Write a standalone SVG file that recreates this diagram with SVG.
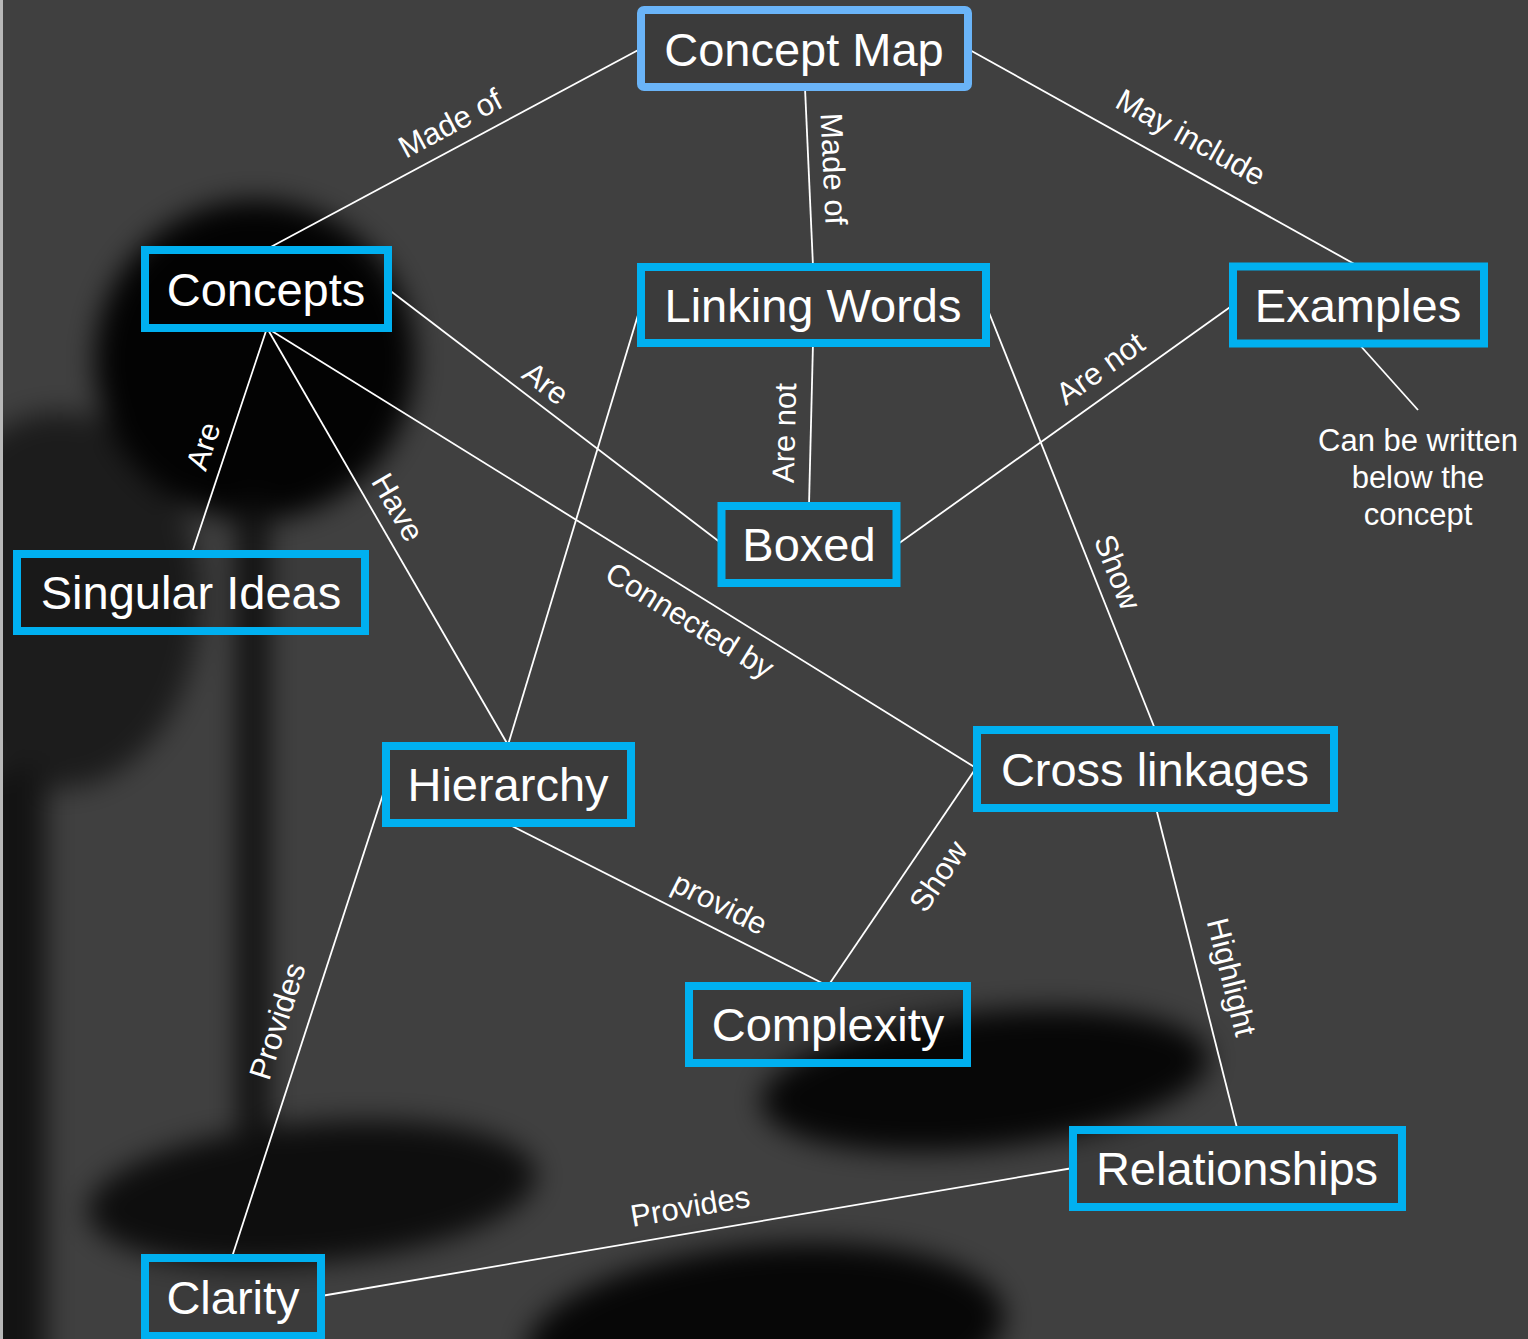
<svg xmlns="http://www.w3.org/2000/svg" width="1528" height="1339" viewBox="0 0 1528 1339">
<defs>
<filter id="blur" x="-200" y="-200" width="1928" height="1739" filterUnits="userSpaceOnUse" color-interpolation-filters="sRGB">
<feGaussianBlur stdDeviation="14"/>
</filter>
<style>
.node rect{fill:rgba(0,0,0,0.08);stroke:#00b0f0;stroke-width:8}
.node text{font-family:"Liberation Sans",Arial,sans-serif;font-size:47px;fill:#ffffff;text-anchor:middle}
#concept-map rect{stroke:#6ab4f8}
.conn line{stroke:#ffffff;stroke-width:1.8;fill:none}
.lbl{font-family:"Liberation Sans",Arial,sans-serif;font-size:31px;fill:#ffffff;text-anchor:middle}
.note{font-family:"Liberation Sans",Arial,sans-serif;font-size:31px;fill:#ffffff;text-anchor:middle}
</style>
</defs>
<g id="background">
<g filter="url(#blur)">
<rect x="-100" y="-100" width="1728" height="1539" fill="#404040"/>
<ellipse cx="60" cy="600" rx="140" ry="188" fill="#1c1c1c"/>
<circle cx="255" cy="360" r="160" fill="#030303"/>
<rect x="238" y="500" width="30" height="630" fill="#0e0e0e"/>
<rect x="-20" y="770" width="66" height="620" fill="#131313"/>
<ellipse cx="312" cy="1193" rx="225" ry="70" fill="#0e0e0e" transform="rotate(-5 312 1193)"/>
<ellipse cx="985" cy="1080" rx="225" ry="68" fill="#070707" transform="rotate(-6 985 1080)"/>
<ellipse cx="765" cy="1335" rx="240" ry="90" fill="#070707" transform="rotate(-5 765 1335)"/>
</g>
<rect x="0" y="0" width="3" height="1339" fill="#b8b8b8"/>
</g>
<g id="connectors" class="conn">
<line x1="642" y1="48" x2="267" y2="249"/>
<text class="lbl" transform="translate(450,123) rotate(-28)" dy="11">Made of</text>
<line x1="805" y1="88" x2="813" y2="266"/>
<text class="lbl" transform="translate(834,169) rotate(87.4)" dy="11">Made of</text>
<line x1="968" y1="49" x2="1358" y2="266"/>
<text class="lbl" transform="translate(1191,137) rotate(29.1)" dy="11">May include</text>
<line x1="267" y1="328" x2="192" y2="553"/>
<text class="lbl" transform="translate(203,446) rotate(-71.6)" dy="11">Are</text>
<line x1="267" y1="328" x2="508" y2="745"/>
<text class="lbl" transform="translate(398,507) rotate(60)" dy="11">Have</text>
<line x1="267" y1="328" x2="976" y2="768"/>
<text class="lbl" transform="translate(690,620) rotate(31.8)" dy="11">Connected by</text>
<line x1="388" y1="289" x2="721" y2="543"/>
<text class="lbl" transform="translate(546,383) rotate(37.4)" dy="11">Are</text>
<line x1="813" y1="343" x2="809" y2="505"/>
<text class="lbl" transform="translate(784,433) rotate(-88.6)" dy="11">Are not</text>
<line x1="641" y1="305" x2="508" y2="745"/>
<line x1="986" y1="305" x2="1155" y2="729"/>
<text class="lbl" transform="translate(1118,572) rotate(68.2)" dy="11">Show</text>
<line x1="1233" y1="305" x2="898" y2="544"/>
<text class="lbl" transform="translate(1100,368) rotate(-35.4)" dy="11">Are not</text>
<line x1="1358" y1="343" x2="1418" y2="410"/>
<line x1="508" y1="824" x2="828" y2="986"/>
<text class="lbl" transform="translate(720,903) rotate(26.8)" dy="11">provide</text>
<line x1="976" y1="768" x2="828" y2="986"/>
<text class="lbl" transform="translate(938,876) rotate(-55.8)" dy="11">Show</text>
<line x1="386" y1="785" x2="232" y2="1257"/>
<text class="lbl" transform="translate(277,1021) rotate(-72.2)" dy="11">Provides</text>
<line x1="321" y1="1296" x2="1073" y2="1168"/>
<text class="lbl" transform="translate(690,1206) rotate(-9.67)" dy="11">Provides</text>
<line x1="1156" y1="808" x2="1237" y2="1128"/>
<text class="lbl" transform="translate(1232,977) rotate(75.8)" dy="11">Highlight</text>
</g>
<g id="concept-map" class="node"><rect x="641" y="10" width="327" height="77" rx="3"/><text x="804" y="65.5">Concept Map</text></g>
<g id="concepts" class="node"><rect x="145" y="250" width="243" height="78"/><text x="266" y="305.5">Concepts</text></g>
<g id="linking-words" class="node"><rect x="641" y="267" width="345" height="76"/><text x="813" y="321.5">Linking Words</text></g>
<g id="examples" class="node"><rect x="1233" y="266.5" width="251" height="77"/><text x="1358" y="321.5">Examples</text></g>
<g id="boxed" class="node"><rect x="721.5" y="506" width="175" height="77"/><text x="809" y="561">Boxed</text></g>
<g id="singular-ideas" class="node"><rect x="17" y="554" width="348" height="77"/><text x="191" y="609">Singular Ideas</text></g>
<g id="hierarchy" class="node"><rect x="386" y="746" width="245" height="77"/><text x="508" y="801">Hierarchy</text></g>
<g id="cross-linkages" class="node"><rect x="977" y="730" width="357" height="78"/><text x="1155" y="785.5">Cross linkages</text></g>
<g id="complexity" class="node"><rect x="689" y="986" width="278" height="77"/><text x="828" y="1041">Complexity</text></g>
<g id="relationships" class="node"><rect x="1073" y="1130" width="329" height="77"/><text x="1237" y="1185">Relationships</text></g>
<g id="clarity" class="node"><rect x="145" y="1258" width="176" height="78"/><text x="233" y="1313.5">Clarity</text></g>
<g id="note">
<text class="note" x="1418" y="451">Can be written</text>
<text class="note" x="1418" y="488">below the</text>
<text class="note" x="1418" y="525">concept</text>
</g>
</svg>
